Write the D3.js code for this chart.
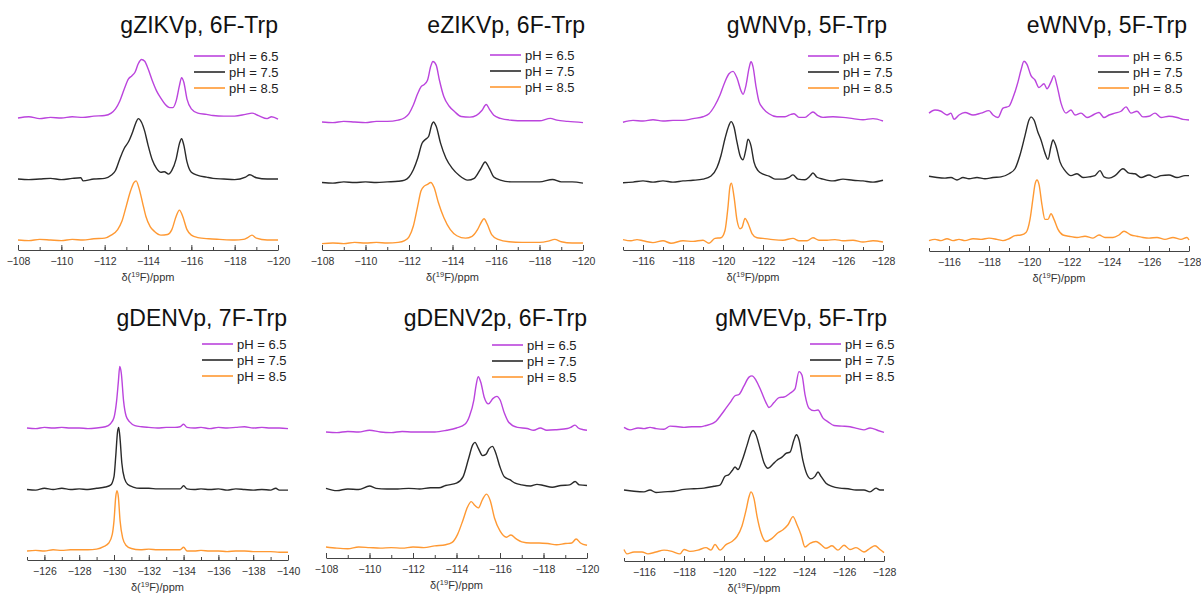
<!DOCTYPE html>
<html>
<head>
<meta charset="utf-8">
<script src="https://cdn.jsdelivr.net/npm/d3@7"></script>
<style>
  body { margin: 0; background: #fff; }
  svg text { font-family: "Liberation Sans", Arial, sans-serif; }
</style>
</head>
<body>
<div id="chart"></div>
<script>
// spectra as [ppm, intensity], one array per sample and pH
const gZIKV_65 = [[-108,0],[-108.5,.02],[-109,-.01],[-109.5,.01],[-110,0],[-110.5,.02],[-111,.01],[-111.5,.03],[-112,.04],[-112.3,.08],[-112.5,.15],[-112.7,.28],[-112.9,.47],[-113.1,.64],[-113.25,.69],[-113.4,.75],[-113.55,.89],[-113.7,.96],[-113.85,.93],[-114,.81],[-114.2,.61],[-114.4,.44],[-114.6,.32],[-114.8,.22],[-115,.17],[-115.15,.17],[-115.3,.28],[-115.45,.53],[-115.55,.66],[-115.65,.59],[-115.8,.31],[-116,.15],[-116.3,.08],[-116.7,.06],[-117,.04],[-117.5,.03],[-118,.03],[-118.5,.06],[-118.8,.08],[-119.1,.04],[-119.5,-.01],[-119.7,.02],[-120,-.02]];
const gZIKV_75 = [[-108,0],[-108.5,-.01],[-109,0],[-109.5,.01],[-110,-.01],[-110.5,.01],[-110.9,.02],[-111,-.03],[-111.5,0],[-112,.01],[-112.3,.06],[-112.5,.14],[-112.7,.33],[-112.9,.5],[-113.1,.61],[-113.3,.78],[-113.45,.93],[-113.55,.99],[-113.7,.93],[-113.85,.78],[-114,.56],[-114.2,.31],[-114.4,.17],[-114.6,.11],[-114.75,.12],[-114.95,.08],[-115.1,.14],[-115.3,.33],[-115.45,.58],[-115.55,.66],[-115.65,.56],[-115.8,.28],[-116,.11],[-116.3,.06],[-116.7,.03],[-117,.01],[-117.5,0],[-118,-.01],[-118.5,.03],[-118.7,.07],[-119,.02],[-119.5,0],[-120,0]];
const gZIKV_85 = [[-108,0],[-108.5,-.01],[-109,.01],[-109.5,0],[-110,-.01],[-110.5,.01],[-111,0],[-111.5,.02],[-112,.03],[-112.3,.08],[-112.6,.17],[-112.8,.31],[-113,.56],[-113.2,.81],[-113.35,.94],[-113.45,.97],[-113.6,.83],[-113.75,.61],[-113.9,.39],[-114.1,.22],[-114.3,.14],[-114.6,.08],[-114.9,.09],[-115.1,.17],[-115.3,.39],[-115.45,.49],[-115.6,.39],[-115.8,.17],[-116,.08],[-116.3,.04],[-116.8,.02],[-117.3,.01],[-118,0],[-118.4,.01],[-118.6,.04],[-118.8,.08],[-119,.03],[-119.5,0],[-120,0]];

const eZIKV_65 = [[-108,0],[-108.5,-.01],[-109,.01],[-109.5,0],[-110,-.01],[-110.5,.01],[-111,.01],[-111.5,.03],[-111.8,.07],[-112,.14],[-112.2,.28],[-112.4,.47],[-112.55,.58],[-112.7,.62],[-112.85,.69],[-113,.92],[-113.1,1],[-113.25,.94],[-113.4,.69],[-113.6,.42],[-113.85,.26],[-114.1,.17],[-114.4,.09],[-114.8,.08],[-115.1,.11],[-115.35,.19],[-115.55,.29],[-115.7,.21],[-115.9,.11],[-116.2,.06],[-116.7,.03],[-117.3,.02],[-118,.02],[-118.5,.06],[-118.8,.03],[-119.3,.01],[-120,-.01]];
const eZIKV_75 = [[-108,0],[-108.5,-.01],[-109,.01],[-109.5,0],[-110,.01],[-110.5,0],[-111,.01],[-111.5,.02],[-111.8,.04],[-112,.09],[-112.2,.21],[-112.4,.4],[-112.6,.65],[-112.75,.71],[-112.9,.76],[-113.05,.96],[-113.12,1],[-113.25,.93],[-113.45,.65],[-113.7,.4],[-114,.23],[-114.3,.12],[-114.7,.04],[-115,.07],[-115.3,.23],[-115.5,.34],[-115.7,.23],[-115.9,.09],[-116.2,.04],[-116.7,.01],[-117.3,.01],[-118,.01],[-118.6,.05],[-119,.01],[-119.5,.01],[-120,-.01]];
const eZIKV_85 = [[-108,-.01],[-108.5,0],[-109,-.01],[-109.5,.01],[-110,0],[-110.5,.01],[-111,0],[-111.5,.01],[-111.8,.04],[-112,.1],[-112.2,.28],[-112.4,.61],[-112.55,.86],[-112.7,.94],[-112.85,.97],[-113,1],[-113.15,.92],[-113.35,.67],[-113.6,.42],[-113.9,.22],[-114.2,.12],[-114.6,.08],[-114.9,.11],[-115.15,.22],[-115.35,.36],[-115.45,.4],[-115.6,.31],[-115.8,.14],[-116.1,.06],[-116.6,.02],[-117.2,.01],[-118,.01],[-118.4,.03],[-118.7,.06],[-119,.02],[-119.5,0],[-120,0]];

const gWNV_65 = [[-115,-.02],[-115.5,.01],[-116,0],[-116.5,.02],[-117,0],[-117.5,.01],[-118,.01],[-118.5,.04],[-119,.07],[-119.3,.12],[-119.6,.26],[-119.85,.43],[-120.1,.65],[-120.3,.78],[-120.5,.82],[-120.7,.71],[-120.9,.5],[-121,.44],[-121.15,.59],[-121.3,.87],[-121.4,.98],[-121.5,.9],[-121.65,.57],[-121.8,.32],[-122,.21],[-122.3,.12],[-122.7,.07],[-123.1,.07],[-123.4,.11],[-123.55,.12],[-123.8,.06],[-124.1,.06],[-124.35,.12],[-124.5,.15],[-124.75,.09],[-125,.06],[-125.5,.07],[-126,.06],[-126.5,.04],[-127,.02],[-127.5,.04],[-128,0]];
const gWNV_75 = [[-115,-.02],[-115.5,-.01],[-116,.01],[-116.5,-.01],[-117,.01],[-117.5,-.01],[-118,.01],[-118.5,.02],[-119,.04],[-119.4,.09],[-119.7,.23],[-119.9,.43],[-120.1,.71],[-120.3,.93],[-120.4,.99],[-120.55,.9],[-120.7,.65],[-120.85,.43],[-121,.36],[-121.15,.54],[-121.25,.7],[-121.4,.59],[-121.55,.32],[-121.75,.18],[-122,.12],[-122.3,.09],[-122.6,.04],[-123,.04],[-123.3,.07],[-123.5,.11],[-123.75,.04],[-124.1,.03],[-124.35,.09],[-124.5,.14],[-124.7,.07],[-125,.04],[-125.5,.01],[-126,.04],[-126.5,.02],[-127,.01],[-127.5,-.01],[-128,.02]];
const gWNV_85 = [[-115,.04],[-115.4,.02],[-115.7,.04],[-116,.02],[-116.5,-.01],[-117,.02],[-117.4,-.02],[-118,.02],[-118.5,.01],[-119,.03],[-119.3,-.02],[-119.6,.06],[-119.9,.07],[-120.1,.19],[-120.25,.58],[-120.35,.92],[-120.42,.97],[-120.55,.75],[-120.7,.36],[-120.85,.22],[-120.95,.24],[-121.1,.39],[-121.25,.31],[-121.45,.14],[-121.7,.07],[-122,.06],[-122.5,.04],[-123,.03],[-123.5,.06],[-123.8,.02],[-124.2,.02],[-124.5,.07],[-124.8,.03],[-125.2,.03],[-125.6,.04],[-126,.02],[-126.5,.03],[-127,0],[-127.5,.02],[-128,0]];

const eWNV_65 = [[-115,.03],[-115.3,.08],[-115.6,.06],[-115.9,0],[-116.1,.03],[-116.25,-.07],[-116.5,0],[-116.8,.04],[-117.2,0],[-117.6,.03],[-118,.07],[-118.2,0],[-118.45,-.04],[-118.7,.11],[-119,.14],[-119.2,.28],[-119.45,.53],[-119.6,.72],[-119.75,.86],[-119.9,.81],[-120.1,.63],[-120.3,.56],[-120.5,.44],[-120.75,.5],[-120.9,.42],[-121.1,.53],[-121.25,.63],[-121.4,.47],[-121.6,.19],[-121.85,.03],[-122.1,.08],[-122.3,0],[-122.6,.03],[-122.9,-.04],[-123.2,0],[-123.5,.04],[-123.75,-.04],[-124,0],[-124.3,.03],[-124.6,.06],[-124.85,.13],[-125.1,.03],[-125.4,.06],[-125.7,-.03],[-126,-.02],[-126.3,.03],[-126.6,-.04],[-127,-.02],[-127.4,-.04],[-127.7,-.07],[-128,-.08]];
const eWNV_75 = [[-115,.02],[-115.4,0],[-115.8,-.01],[-116.1,0],[-116.4,-.04],[-116.7,0],[-117,-.02],[-117.4,0],[-117.8,-.02],[-118.2,0],[-118.6,.01],[-119,.06],[-119.3,.14],[-119.55,.36],[-119.8,.67],[-120,.92],[-120.1,.97],[-120.25,.92],[-120.45,.72],[-120.6,.6],[-120.8,.39],[-120.95,.29],[-121.1,.5],[-121.2,.6],[-121.35,.5],[-121.55,.25],[-121.8,.11],[-122.1,.03],[-122.4,.06],[-122.7,0],[-123,.01],[-123.3,.03],[-123.55,.11],[-123.75,.01],[-124,-.01],[-124.3,.03],[-124.7,.14],[-125,.07],[-125.3,.06],[-125.6,0],[-126,.04],[-126.3,0],[-126.6,.03],[-127,.04],[-127.4,0],[-127.8,.03],[-128,.03]];
const eWNV_85 = [[-115,-.01],[-115.3,.01],[-115.6,-.01],[-115.9,.02],[-116.2,-.01],[-116.5,.01],[-116.8,-.01],[-117.2,.02],[-117.6,.01],[-118,.03],[-118.4,.01],[-118.7,-.01],[-119,.02],[-119.3,.07],[-119.6,.08],[-119.85,.12],[-120.05,.33],[-120.2,.67],[-120.3,.89],[-120.4,.96],[-120.5,.89],[-120.65,.56],[-120.8,.33],[-120.95,.33],[-121.1,.42],[-121.25,.33],[-121.45,.17],[-121.7,.08],[-122,.06],[-122.4,.04],[-122.8,.06],[-123.2,.03],[-123.5,.08],[-123.8,.04],[-124.2,.04],[-124.5,.08],[-124.75,.14],[-125.1,.08],[-125.4,.06],[-125.7,.04],[-126,.03],[-126.4,.04],[-126.8,.01],[-127.2,.04],[-127.6,.01],[-127.9,.04],[-128,0]];

const gDENV_65 = [[-125,0],[-125.5,-.01],[-126,.01],[-126.5,0],[-127,.01],[-127.5,0],[-128,0],[-128.5,-.01],[-129,0],[-129.5,.02],[-129.8,.07],[-130,.17],[-130.15,.44],[-130.25,.75],[-130.33,1],[-130.42,.89],[-130.55,.44],[-130.7,.19],[-130.9,.1],[-131.2,.04],[-131.6,.02],[-132,.01],[-132.5,0],[-133,.01],[-133.5,.01],[-133.8,.02],[-134,.06],[-134.2,.01],[-134.6,0],[-135,.01],[-135.5,-.01],[-136,.01],[-136.5,0],[-137,.01],[-137.5,.02],[-138,0],[-138.5,.01],[-139,0],[-139.5,0],[-140,-.01]];
const gDENV_75 = [[-125,0],[-125.5,-.01],[-126,.02],[-126.5,0],[-127,.02],[-127.5,0],[-128,.01],[-128.5,0],[-129,.02],[-129.5,.04],[-129.8,.07],[-130,.21],[-130.1,.54],[-130.2,.93],[-130.27,1.01],[-130.35,.82],[-130.45,.43],[-130.6,.18],[-130.8,.08],[-131.1,.04],[-131.5,.02],[-132,.02],[-132.5,.01],[-133,.01],[-133.5,.01],[-133.8,.01],[-134,.06],[-134.2,.01],[-134.6,0],[-135,.01],[-135.5,0],[-136,.01],[-136.5,-.01],[-137,.01],[-137.5,0],[-138,-.01],[-138.5,0],[-139,-.01],[-139.3,.02],[-139.5,-.01],[-140,-.01]];
const gDENV_85 = [[-125,0],[-125.5,.01],[-126,0],[-126.5,.02],[-127,.01],[-127.5,.02],[-128,.02],[-128.5,.02],[-129,.03],[-129.4,.07],[-129.7,.13],[-129.9,.27],[-130,.49],[-130.1,.88],[-130.17,.98],[-130.25,.88],[-130.35,.49],[-130.5,.21],[-130.7,.09],[-131,.04],[-131.5,.02],[-132,.03],[-132.5,.02],[-133,.02],[-133.5,.02],[-133.8,.02],[-134,.06],[-134.2,0],[-134.6,0],[-135,.01],[-135.5,0],[-136,0],[-136.5,-.01],[-137,0],[-137.5,0],[-138,-.01],[-138.5,-.01],[-139,-.01],[-139.5,-.02],[-140,-.02]];

const gDENV2_65 = [[-108,0],[-108.5,-.01],[-109,.01],[-109.5,0],[-110,.03],[-110.5,0],[-111,-.01],[-111.5,.01],[-112,0],[-112.5,0],[-113,0],[-113.55,.03],[-114,.07],[-114.4,.14],[-114.6,.28],[-114.8,.56],[-114.9,.81],[-115,.96],[-115.12,.86],[-115.27,.61],[-115.47,.49],[-115.67,.58],[-115.86,.62],[-116,.56],[-116.2,.33],[-116.4,.17],[-116.8,.08],[-117.25,.06],[-117.55,.03],[-117.85,.07],[-118.15,.03],[-118.6,.04],[-119.1,.06],[-119.25,.08],[-119.45,.12],[-119.6,.07],[-119.85,.04],[-120,.03]];
const gDENV2_75 = [[-108,.02],[-108.5,-.02],[-109,.01],[-109.5,0],[-110,.06],[-110.3,.02],[-110.8,.01],[-111.3,.01],[-111.8,.02],[-112.3,.01],[-112.8,.03],[-113.2,.03],[-113.5,.07],[-114,.11],[-114.3,.22],[-114.55,.53],[-114.75,.78],[-114.85,.82],[-115,.72],[-115.2,.59],[-115.35,.61],[-115.5,.71],[-115.65,.75],[-115.8,.64],[-116,.39],[-116.2,.22],[-116.45,.17],[-116.7,.11],[-117,.08],[-117.4,.06],[-117.7,.09],[-118,.07],[-118.4,.04],[-118.8,.07],[-119.2,.08],[-119.45,.14],[-119.65,.08],[-120,.07]];
const gDENV2_85 = [[-108,0],[-108.5,-.02],[-109,-.03],[-109.5,0],[-110,-.01],[-110.5,-.02],[-111,-.01],[-111.5,-.02],[-112,0],[-112.5,-.01],[-113,.02],[-113.5,.04],[-113.8,.08],[-114.05,.22],[-114.3,.47],[-114.5,.69],[-114.68,.79],[-114.85,.72],[-115,.68],[-115.2,.83],[-115.38,.92],[-115.55,.81],[-115.75,.5],[-116,.28],[-116.3,.17],[-116.5,.21],[-116.75,.14],[-117,.09],[-117.4,.07],[-117.8,.07],[-118.2,.06],[-118.6,.04],[-119,.06],[-119.3,.07],[-119.5,.14],[-119.7,.07],[-120,.03]];

const gMVEV_65 = [[-115,.01],[-115.3,-.03],[-115.7,0],[-116,-.01],[-116.3,.01],[-116.6,-.01],[-117,-.02],[-117.3,.03],[-117.7,.02],[-118,.01],[-118.4,.02],[-118.8,.02],[-119.1,.04],[-119.4,.07],[-119.6,.11],[-119.85,.21],[-120.1,.32],[-120.35,.43],[-120.55,.52],[-120.75,.54],[-121,.68],[-121.25,.82],[-121.4,.84],[-121.6,.77],[-121.85,.6],[-122.1,.41],[-122.25,.33],[-122.5,.41],[-122.75,.49],[-123,.5],[-123.3,.56],[-123.55,.63],[-123.75,.91],[-123.9,.85],[-124.05,.54],[-124.25,.32],[-124.5,.28],[-124.7,.29],[-124.95,.16],[-125.2,.1],[-125.5,.04],[-125.9,.03],[-126.3,.02],[-126.7,-.01],[-127,-.03],[-127.3,0],[-127.7,-.04],[-128,-.07]];
const gMVEV_75 = [[-115,0],[-115.5,-.02],[-116,-.03],[-116.3,0],[-116.6,-.04],[-117,-.03],[-117.5,-.02],[-118,.01],[-118.5,.02],[-119,.03],[-119.5,.06],[-119.8,.08],[-120.05,.22],[-120.25,.25],[-120.4,.31],[-120.55,.37],[-120.7,.33],[-120.9,.47],[-121.15,.72],[-121.35,.92],[-121.45,.96],[-121.6,.89],[-121.8,.67],[-122,.44],[-122.2,.35],[-122.45,.42],[-122.65,.48],[-122.9,.53],[-123.1,.59],[-123.3,.61],[-123.5,.81],[-123.62,.89],[-123.75,.81],[-123.95,.47],[-124.15,.25],[-124.35,.18],[-124.55,.22],[-124.7,.29],[-124.85,.22],[-125.1,.11],[-125.4,.06],[-125.8,.03],[-126.2,.02],[-126.6,0],[-127,0],[-127.3,-.03],[-127.6,.03],[-127.8,0],[-128,0]];
const gMVEV_85 = [[-115,.04],[-115.15,-.03],[-115.5,0],[-115.9,0],[-116.2,-.03],[-116.6,0],[-117,.03],[-117.4,.01],[-117.8,-.03],[-118,.04],[-118.3,.01],[-118.7,.03],[-119.1,.07],[-119.35,.03],[-119.55,.12],[-119.8,.03],[-120.1,.12],[-120.4,.17],[-120.65,.25],[-120.9,.42],[-121.1,.67],[-121.25,.89],[-121.35,.97],[-121.5,.86],[-121.65,.58],[-121.85,.31],[-122.1,.17],[-122.4,.22],[-122.7,.31],[-122.95,.36],[-123.2,.44],[-123.45,.57],[-123.65,.44],[-123.85,.28],[-124.05,.08],[-124.3,.14],[-124.6,.17],[-124.85,.12],[-125.1,.06],[-125.4,.1],[-125.7,.03],[-126,.11],[-126.3,.04],[-126.6,.07],[-127,0],[-127.3,.06],[-127.55,.1],[-127.8,.04],[-128,-.01]];

const titles = ['gZIKVp, 6F-Trp', 'eZIKVp, 6F-Trp', 'gWNVp, 5F-Trp', 'eWNVp, 5F-Trp', 'gDENVp, 7F-Trp', 'gDENV2p, 6F-Trp', 'gMVEVp, 5F-Trp'];
const phLabels = ['pH = 6.5', 'pH = 7.5', 'pH = 8.5'];
const domains = [[-108, -120], [-108, -120], [-115, -128], [-115, -128], [-125, -140], [-108, -120], [-115, -128]];
const ticks108 = [-108, -110, -112, -114, -116, -118, -120];
const ticks115 = [-116, -118, -120, -122, -124, -126, -128];
const ticks125 = [-126, -128, -130, -132, -134, -136, -138, -140];
const majorTicks = [ticks108, ticks108, ticks115, ticks115, ticks125, ticks108, ticks115];
const spectra = [
    [gZIKV_65, gZIKV_75, gZIKV_85],
    [eZIKV_65, eZIKV_75, eZIKV_85],
    [gWNV_65, gWNV_75, gWNV_85],
    [eWNV_65, eWNV_75, eWNV_85],
    [gDENV_65, gDENV_75, gDENV_85],
    [gDENV2_65, gDENV2_75, gDENV2_85],
    [gMVEV_65, gMVEV_75, gMVEV_85]
];

const colors = ['#bb44dd', '#2a2a2a', '#ff9933'];
const offsets = [2, 1, 0];

// panel placement on the page
const layout = [
    { x0: 18, x1: 278, axisY: 250, top: 118, base: 240, legX: 229, legY: 56, titleX: 278, titleY: 33 },
    { x0: 322, x1: 583, axisY: 250, top: 122, base: 243, legX: 525, legY: 55, titleX: 585, titleY: 33 },
    { x0: 623, x1: 883, axisY: 250, top: 121, base: 242, legX: 843, legY: 56, titleX: 887, titleY: 33 },
    { x0: 929, x1: 1189, axisY: 251, top: 115, base: 240, legX: 1133, legY: 56, titleX: 1187, titleY: 33 },
    { x0: 27, x1: 288, axisY: 560, top: 428, base: 551, legX: 237, legY: 344, titleX: 287, titleY: 326 },
    { x0: 326, x1: 587, axisY: 558, top: 432, base: 547, legX: 527, legY: 345, titleX: 587, titleY: 326 },
    { x0: 624, x1: 884, axisY: 561, top: 428, base: 552, legX: 845, legY: 344, titleX: 887, titleY: 326 }
];

const width = 1201;
const height = 599;

const svg = d3.select('#chart')
    .append('svg')
    .attr('width', width)
    .attr('height', height);

layout.forEach((L, i) => {
    const g = svg.append('g').attr('class', 'panel');

    const xScale = d3.scaleLinear()
        .domain(domains[i])
        .range([L.x0, L.x1]);

    const yScale = d3.scaleLinear()
        .domain([0, 2])
        .range([L.base, L.top]);

    // minor ticks every 1 ppm
    const minor = d3.range(domains[i][0], domains[i][1] - 0.5, -1);
    g.append('g')
        .attr('transform', `translate(0, ${L.axisY})`)
        .call(d3.axisBottom(xScale).tickValues(minor).tickSizeInner(-3).tickSizeOuter(0).tickFormat(''))
        .call(a => a.select('.domain').remove())
        .selectAll('line').attr('stroke', '#444');

    const xAxis = d3.axisBottom(xScale)
        .tickValues(majorTicks[i])
        .tickSizeInner(-5)
        .tickSizeOuter(0)
        .tickPadding(8);

    const ax = g.append('g')
        .attr('transform', `translate(0, ${L.axisY})`)
        .call(xAxis);
    ax.select('.domain').attr('stroke', '#444');
    ax.selectAll('.tick line').attr('stroke', '#444');
    ax.selectAll('.tick text')
        .attr('fill', '#333')
        .style('font-size', '10.5px');

    const label = g.append('text')
        .attr('x', (L.x0 + L.x1) / 2)
        .attr('y', L.axisY + 31)
        .attr('text-anchor', 'middle')
        .attr('fill', '#333')
        .style('font-size', '11px');
    label.append('tspan').text('δ(');
    label.append('tspan').attr('dy', -4).style('font-size', '7.5px').text('19');
    label.append('tspan').attr('dy', 4).text('F)/ppm');

    const line = d3.line()
        .x(d => xScale(d[0]))
        .curve(d3.curveMonotoneX);

    spectra[i].forEach((s, k) => {
        g.append('path')
            .datum(s)
            .attr('fill', 'none')
            .attr('stroke', colors[k])
            .attr('stroke-width', 1.4)
            .attr('stroke-linejoin', 'round')
            .attr('d', line.y(d => yScale(d[1] + offsets[k])));
    });

    g.append('text')
        .attr('x', L.titleX)
        .attr('y', L.titleY)
        .attr('text-anchor', 'end')
        .attr('fill', '#111')
        .style('font-size', '23px')
        .text(titles[i]);

    const legend = g.append('g')
        .attr('transform', `translate(${L.legX}, ${L.legY})`);

    phLabels.forEach((t, k) => {
        legend.append('line')
            .attr('x1', -35)
            .attr('x2', -4)
            .attr('y1', k * 16)
            .attr('y2', k * 16)
            .attr('stroke', colors[k])
            .attr('stroke-width', 1.6);
        legend.append('text')
            .attr('x', 0)
            .attr('y', k * 16 + 4.5)
            .attr('fill', '#222')
            .style('font-size', '13px')
            .text(t);
    });
});
</script>
</body>
</html>
